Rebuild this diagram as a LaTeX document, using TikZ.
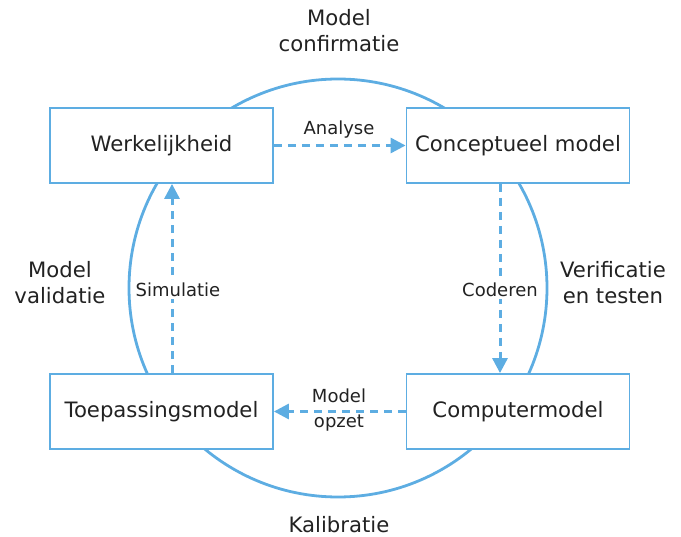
\documentclass[tikz,border=0pt]{standalone}
\usepackage{fontspec}
\setmainfont{DejaVu Sans}
\usetikzlibrary{arrows.meta}
\definecolor{lblue}{HTML}{5DADE2}
\definecolor{txt}{HTML}{222222}
\begin{document}
\begin{tikzpicture}[x=1pt,y=-1pt,
 box/.style={draw=lblue, line width=1.8pt, fill=white, minimum width=223pt, minimum height=75pt, inner sep=0pt, font=\fontsize{21.2}{26}\selectfont, text=txt},
 flow/.style={draw=lblue, line width=3pt, dash pattern=on 8pt off 6pt, -{Triangle[length=15pt,width=15pt]}},
 lab/.style={font=\fontsize{18}{23}\selectfont, text=txt, fill=white, inner sep=2pt, align=center},
 outer/.style={font=\fontsize{21.2}{26}\selectfont, text=txt, align=center}]
\useasboundingbox (0,0) rectangle (681,537);
\draw[lblue, line width=2.8pt] (338,288) circle (209pt);
\node[box] (w) at (161.5,145.5) {Werkelijkheid};
\node[box] (c) at (518,145.5) {Conceptueel model};
\node[box] (t) at (161.5,411.5) {Toepassingsmodel};
\node[box] (m) at (518,411.5) {Computermodel};
\draw[flow] (w.east) -- (c.west);
\draw[flow] ([xshift=-18pt]c.south) -- ([xshift=-18pt]m.north);
\draw[flow] (m.west) -- (t.east);
\draw[flow] ([xshift=10.5pt]t.north) -- ([xshift=10.5pt]w.south);
\node[lab, fill=none] (la) at (339,130) {Analyse};
\node[lab] (lc) at (500,290) {Coderen};
\node[lab] (ls) at (178,290) {Simulatie};
\node[lab, fill=none, font=\fontsize{18}{25}\selectfont] (lm) at (339,410.5) {Model\\opzet};
\node[outer] (o1) at (339,31) {Model\\confirmatie};
\node[outer] (o2) at (613,283) {Verificatie\\en testen};
\node[outer] (o3) at (60,283) {Model\\validatie};
\node[outer] (o4) at (339,525) {Kalibratie};
\end{tikzpicture}
\end{document}
